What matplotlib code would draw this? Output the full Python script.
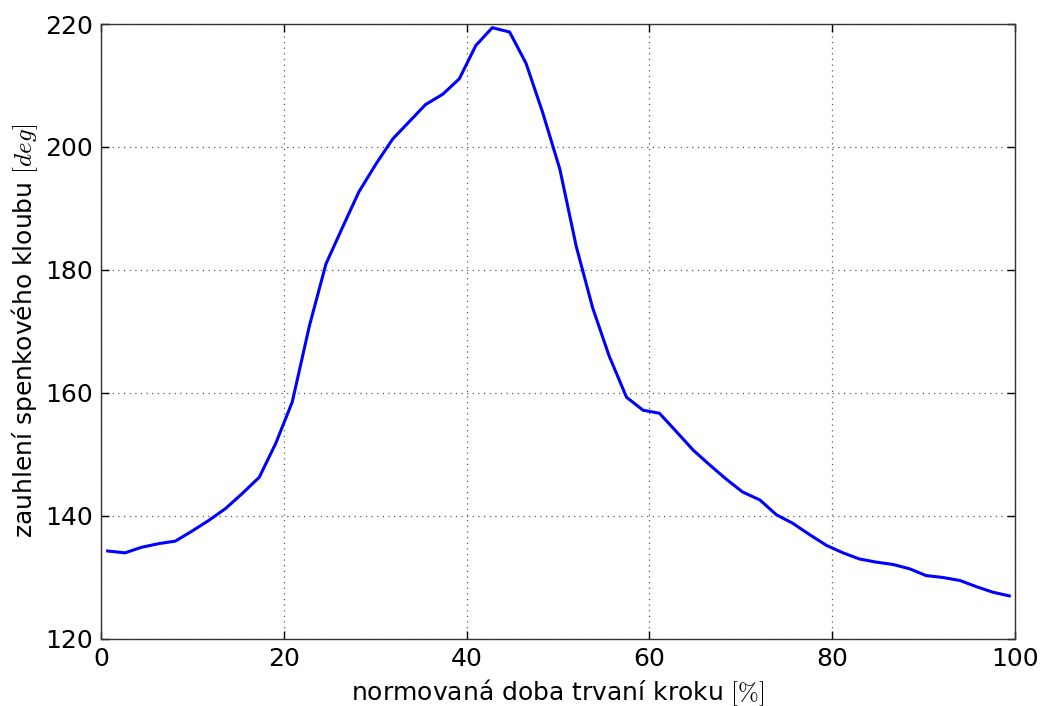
import numpy as np
import matplotlib
matplotlib.use("Agg")
import matplotlib.pyplot as plt

# normalised step time [%] and hip angle [deg]
cas_kroku = [0.7, 2.6, 4.4, 6.3, 8.1, 9.9, 11.8, 13.6, 15.4, 17.3,
             19.1, 20.9, 22.8, 24.6, 26.4, 28.2, 30.1, 31.9, 33.7, 35.5,
             37.4, 39.2, 41.0, 42.8, 44.7, 46.5, 48.3, 50.2, 52.0, 53.8,
             55.6, 57.5, 59.3, 61.1, 62.9, 64.8, 66.6, 68.4, 70.2, 72.1,
             73.9, 75.7, 77.5, 79.4, 81.2, 83.0, 84.8, 86.7, 88.5, 90.3,
             92.1, 94.0, 95.8, 97.6, 99.4]
uhel_kloubu = [134.3, 134.0, 134.9, 135.5, 135.9, 137.5, 139.3, 141.2, 143.6, 146.3,
               151.8, 158.5, 171.0, 181.0, 186.9, 192.7, 197.3, 201.3, 204.1, 206.9,
               208.6, 211.1, 216.5, 219.4, 218.7, 213.6, 205.7, 196.4, 183.8, 173.8,
               166.0, 159.3, 157.2, 156.7, 153.8, 150.7, 148.3, 146.0, 143.9, 142.6,
               140.2, 138.8, 137.0, 135.2, 134.0, 133.0, 132.5, 132.1, 131.4, 130.3,
               130.0, 129.5, 128.5, 127.6, 127.0]

plt.rcParams["mathtext.fontset"] = "cm"
plt.rcParams["font.size"] = 18

fig = plt.figure(figsize=(10.44, 7.06), dpi=100)
ax = fig.add_axes([0.097, 0.095, 0.875, 0.871])

ax.plot(cas_kroku, uhel_kloubu, color="b", linewidth=2.2)

ax.set_xlim(0, 100)
ax.set_ylim(120, 220)
ax.set_xticks(np.arange(0, 101, 20))
ax.set_yticks(np.arange(120, 221, 20))
ax.grid(True, linestyle=(0, (1, 3.5)), color="0.35", linewidth=0.9)
ax.tick_params(direction="in", top=True, right=True, length=6, width=1, pad=6)
for s in ax.spines.values():
    s.set_linewidth(1)
    s.set_color("0.2")

ax.set_xlabel(r"normovaná doba trvaní kroku $[\%]$")
ax.set_ylabel(r"zauhlení spenkového kloubu $[deg]$")

fig.savefig("out.png", dpi=100)
